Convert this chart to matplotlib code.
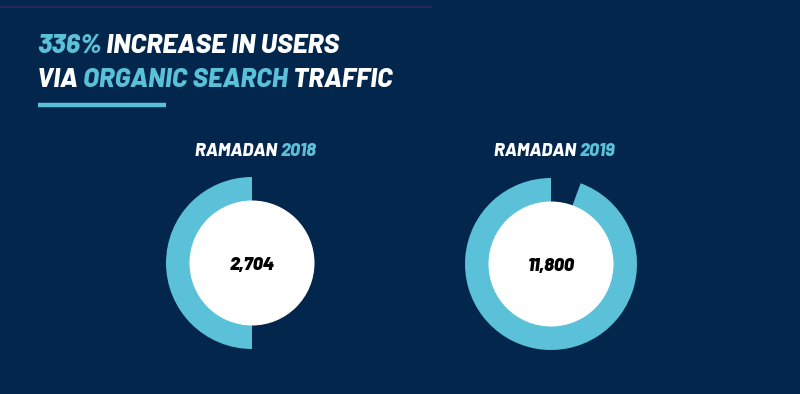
import matplotlib
matplotlib.use("Agg")
import matplotlib.pyplot as plt
from matplotlib.patches import Circle

# ---- data ----
years = ["2018", "2019"]
users = [2704, 11800]
ring_share = [0.50, 0.944]          # share of the ring that is filled
title_line1 = [("336%", "cyan"), (" INCREASE IN USERS", "white")]
title_line2 = [("VIA ", "white"), ("ORGANIC SEARCH", "cyan"), (" TRAFFIC", "white")]

BG = "#03264c"
CYAN = "#5bc1d9"
COL = {"cyan": CYAN, "white": "white"}
FONT = dict(family=["Barlow", "Barlow Semi Condensed", "DejaVu Sans"], weight=800, style="italic")
FONT_NUM = dict(FONT, weight=900)

W, H = 800, 394
fig = plt.figure(figsize=(W / 100, H / 100), dpi=100, facecolor=BG)
bg = fig.add_axes([0, 0, 1, 1])
bg.set_xlim(0, W)
bg.set_ylim(H, 0)
bg.axis("off")
bg.set_facecolor(BG)
renderer = fig.canvas.get_renderer()

# faint top rule and cyan underline
bg.plot([0, 432], [7, 7], color="#2b2a5c", lw=1.2, solid_capstyle="butt")
bg.plot([38, 166], [105, 105], color=CYAN, lw=3.2, solid_capstyle="butt")


def multi_text(ax, x, y, parts, size, center=False):
    texts = []
    prev = None
    for txt, c in parts:
        if prev is None:
            prev = ax.text(x, y, txt, color=COL[c], fontsize=size, va="baseline", ha="left", **FONT)
        else:
            prev = ax.annotate(txt, xy=(1, 0), xycoords=prev, va="bottom", ha="left",
                               color=COL[c], fontsize=size, **FONT)
        texts.append(prev)
    if center:
        total = sum(t.get_window_extent(renderer).width for t in texts)
        texts[0].set_x(x - total / 2)
    return texts


multi_text(bg, 37, 53, title_line1, 19.4)
multi_text(bg, 37, 87, title_line2, 19)

centers = [(252, 263), (551, 264)]
R_OUT, R_IN = 86, 62.5
for (cx, cy), yr, val, share in zip(centers, years, users, ring_share):
    half = 100
    ax = fig.add_axes([(cx - half) / W, (H - cy - half) / H, 2 * half / W, 2 * half / H])
    ax.set_xlim(-half, half)
    ax.set_ylim(-half, half)
    ax.axis("off")
    ax.pie([share, 1 - share], colors=[CYAN, "none"], startangle=90, counterclock=True,
           radius=R_OUT, wedgeprops=dict(width=R_OUT - R_IN + 2, linewidth=0))
    ax.add_patch(Circle((0, 0), R_IN, facecolor="white", edgecolor="none", zorder=3))
    ax.set_xlim(-half, half)
    ax.set_ylim(-half, half)
    ax.text(0, -2, f"{val:,}", ha="center", va="center", fontsize=13, color="black", zorder=4, **FONT_NUM)
    # label above
    multi_text(bg, cx + 4, 156, [("RAMADAN ", "white"), (yr, "cyan")], 13, center=True)

fig.savefig("out.png", dpi=100, facecolor=BG)
